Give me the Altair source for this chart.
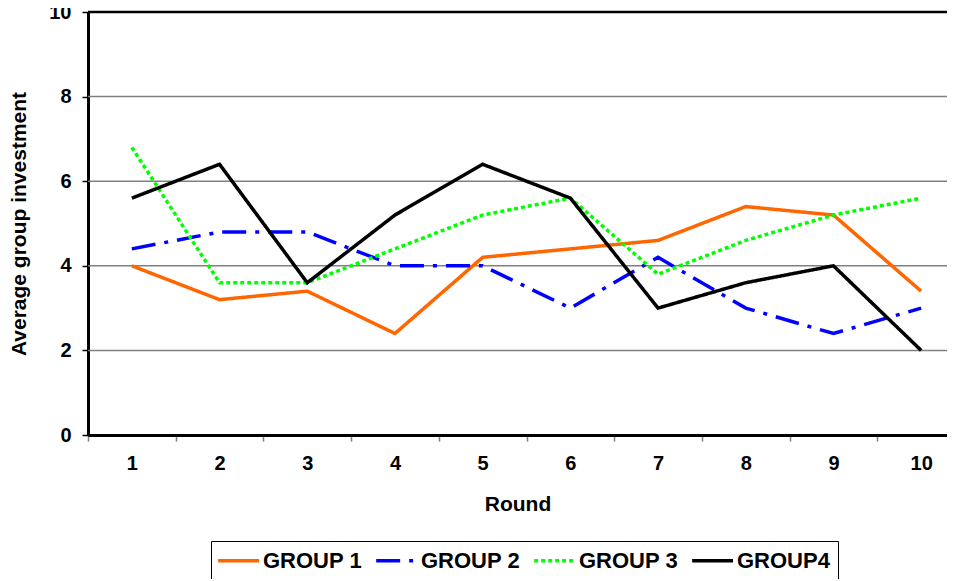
import altair as alt
import pandas as pd

rounds = [1, 2, 3, 4, 5, 6, 7, 8, 9, 10]
groups = ["GROUP 1", "GROUP 2", "GROUP 3", "GROUP4"]
group1 = [4.0, 3.2, 3.4, 2.4, 4.2, 4.4, 4.6, 5.4, 5.2, 3.4]
group2 = [4.4, 4.8, 4.8, 4.0, 4.0, 3.0, 4.2, 3.0, 2.4, 3.0]
group3 = [6.8, 3.6, 3.6, 4.4, 5.2, 5.6, 3.8, 4.6, 5.2, 5.6]
group4 = [5.6, 6.4, 3.6, 5.2, 6.4, 5.6, 3.0, 3.6, 4.0, 2.0]
colors = ["#FF6600", "#0000FF", "#00FF00", "#000000"]
dashes = [[1, 0], [24, 9, 4, 9], [4, 3], [1, 0]]
y_ticks = [0, 2, 4, 6, 8, 10]
grid_values = [2, 4, 6, 8]

rows = []
for g, vals in zip(groups, [group1, group2, group3, group4]):
    for r, v in zip(rounds, vals):
        rows.append({"round": r, "group": g, "value": v})
df = pd.DataFrame(rows)

FONT = "Liberation Sans"
PLOT_W = 859
PLOT_H = 423
STEP = 87.7
X_END = 0.5 + PLOT_W / STEP  # the last band runs past the right edge of the picture

yscale = alt.Scale(domain=[0, 10], nice=False, zero=True)
xscale = alt.Scale(domain=[0.5, X_END], nice=False, zero=False)

x_vals = [0.5 + 0.5 * i for i in range(20)]

y_axis = alt.Axis(
    title="Average group investment",
    orient="left",
    values=y_ticks,
    labelFont=FONT,
    labelFontSize=20,
    labelFontWeight="bold",
    labelColor="#000000",
    labelPadding=11,
    tickSize=6,
    tickWidth=1.5,
    tickColor="#000000",
    domainColor="#000000",
    domainWidth=3,
    grid=False,
    titleFont=FONT,
    titleFontSize=21,
    titleFontWeight="bold",
    titleColor="#000000",
    titlePadding=19,
)

grid = alt.Chart(pd.DataFrame({"value": grid_values})).mark_rule(
    color="#808080", strokeWidth=1.5
).encode(
    y=alt.Y("value:Q", scale=yscale, axis=y_axis),
    x=alt.value(0),
    x2=alt.value(PLOT_W),
)

top = alt.Chart(pd.DataFrame({"value": [10]})).mark_rule(
    color="#000000", strokeWidth=2.5
).encode(
    y=alt.Y("value:Q", scale=yscale, axis=y_axis),
    x=alt.value(0),
    x2=alt.value(PLOT_W),
)

leg = alt.Legend(
    title=None,
    orient="none",
    legendX=123,
    legendY=529,
    direction="horizontal",
    columns=4,
    symbolType="M-1.3,0H3",
    symbolSize=361,
    symbolStrokeWidth=3.5,
    labelFont=FONT,
    labelFontSize=22,
    labelFontWeight="bold",
    labelColor="#000000",
    labelOffset=21,
    columnPadding=6,
    strokeColor="#000000",
    padding=8,
)

lines = alt.Chart(df).mark_line(strokeWidth=3.5).encode(
    x=alt.X(
        "round:Q",
        scale=xscale,
        axis=alt.Axis(
            title="Round",
            values=x_vals,
            labelExpr="datum.value % 1 == 0 ? format(datum.value, 'd') : ''",
            labelOverlap=False,
            labelFlush=False,
            labelFont=FONT,
            labelFontSize=20,
            labelFontWeight="bold",
            labelColor="#000000",
            labelPadding=12,
            tickSize=6,
            tickWidth=1.5,
            tickColor="#808080",
            tickOpacity={"condition": {"test": "datum.value % 1 != 0", "value": 1}, "value": 0},
            domainColor="#000000",
            domainWidth=3,
            grid=False,
            titleFont=FONT,
            titleFontSize=21,
            titleFontWeight="bold",
            titleColor="#000000",
            titlePadding=20,
        ),
    ),
    y=alt.Y("value:Q", scale=yscale, axis=y_axis),
    color=alt.Color("group:N", scale=alt.Scale(domain=groups, range=colors), legend=leg),
    strokeDash=alt.StrokeDash("group:N", scale=alt.Scale(domain=groups, range=dashes), legend=leg),
    order=alt.Order("round:Q"),
)

chart = alt.layer(grid, top, lines).properties(
    width=PLOT_W,
    height=PLOT_H,
    padding={"left": 80, "top": 4, "right": 0, "bottom": 144},
    autosize=alt.AutoSizeParams(type="none"),
    background="#ffffff",
).configure_view(stroke="transparent", strokeWidth=0)

chart.save("out.html", embed_options={"renderer": "svg", "actions": False})
